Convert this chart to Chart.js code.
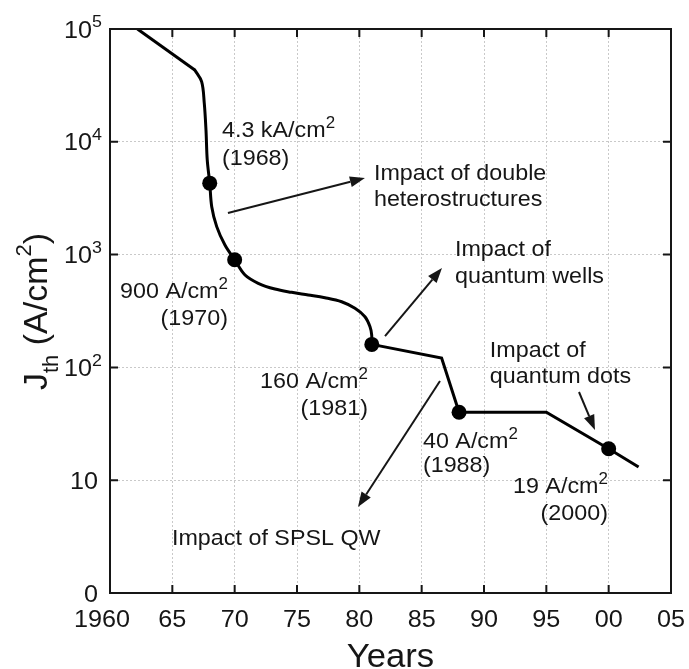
<!DOCTYPE html>
<html lang="en">
<head>
<meta charset="UTF-8">
<title>Threshold current density vs year</title>
<script src="https://cdn.jsdelivr.net/npm/chart.js"></script>
<style>
    body { margin: 0; background: #fff; }
    #wrap { width: 689px; height: 669px; position: relative; }
</style>
</head>
<body>
<div id="wrap"><canvas id="jthChart"></canvas></div>
<script>
// values: year vs Jth (A/cm2)
const headYears = [1962.2, 1966.8];
const headJ = [100000, 43300];
const bendYears = [1966.8, 1967.35, 1967.56, 1967.7, 1967.8, 1968, 1968.16, 1968.56, 1969.22, 1970,
    1970.83, 1971.89, 1973.23, 1974.57, 1975.9, 1977.24, 1978.58, 1979.65, 1980.45, 1980.85, 1980.99, 1981];
const bendJ = [43300, 34100, 22100, 12700, 6900, 4300, 2660, 1770, 1215, 900,
    659, 557, 495, 463, 439, 415, 382, 334, 281, 230, 194, 160];
const tailYears = [1981, 1986.6, 1988, 1995, 2000, 2002.4];
const tailJ = [160, 121, 40, 40, 19, 13.1];
const recordYears = [1968, 1970, 1981, 1988, 2000];
const recordJ = [4300, 900, 160, 40, 19];

const xTicks = [1960, 1965, 1970, 1975, 1980, 1985, 1990, 1995, 2000, 2005];
const xTickLabels = ['1960', '65', '70', '75', '80', '85', '90', '95', '00', '05'];
const yTicks = [1, 10, 100, 1000, 10000, 100000];
const yTickLabels = ['0', '10', '10^2', '10^3', '10^4', '10^5'];

// annotations, anchored at [year, log10(J)] ; '^' marks a superscript
const notes = [
    { text: '4.3 kA/cm^2', at: [1968.98, 4.043], align: 'left' },
    { text: '(1968)', at: [1968.98, 3.794], align: 'left' },
    { text: '900 A/cm^2', at: [1969.46, 2.615], align: 'right' },
    { text: '(1970)', at: [1969.46, 2.376], align: 'right' },
    { text: '160 A/cm^2', at: [1980.69, 1.817], align: 'right' },
    { text: '(1981)', at: [1980.69, 1.578], align: 'right' },
    { text: '40 A/cm^2', at: [1985.1, 1.285], align: 'left' },
    { text: '(1988)', at: [1985.1, 1.073], align: 'left' },
    { text: '19 A/cm^2', at: [1999.94, 0.887], align: 'right' },
    { text: '(2000)', at: [1999.94, 0.647], align: 'right' },
    { text: 'Impact of double', at: [1981.17, 3.661], align: 'left' },
    { text: 'heterostructures', at: [1981.17, 3.431], align: 'left' },
    { text: 'Impact of', at: [1987.67, 2.988], align: 'left' },
    { text: 'quantum wells', at: [1987.67, 2.748], align: 'left' },
    { text: 'Impact of', at: [1990.47, 2.092], align: 'left' },
    { text: 'quantum dots', at: [1990.47, 1.862], align: 'left' },
    { text: 'Impact of SPSL QW', at: [1964.97, 0.426], align: 'left' }
];
const arrows = [
    { from: [1969.46, 3.369], to: [1980.45, 3.679] },
    { from: [1982.06, 2.278], to: [1986.63, 2.881] },
    { from: [1986.47, 1.879], to: [1979.89, 0.762] },
    { from: [1997.62, 1.782], to: [1998.9, 1.445] }
];

const FONT = "'Liberation Sans', Arial, sans-serif";
const INK = '#161616';

function pts(xs, ys) {
    return xs.map((v, i) => ({ x: v, y: ys[i] }));
}

// draws "base^sup" text with a slight horizontal stretch like the scanned figure
function drawRich(ctx, str, x, y, size, align, sx) {
    const parts = str.split('^');
    const segs = [{ t: parts[0], s: size, dy: 0 }];
    if (parts[1]) segs.push({ t: parts[1], s: Math.round(size * 0.72), dy: -size * 0.42 });
    let w = 0;
    segs.forEach(g => {
        ctx.font = g.s + 'px ' + FONT;
        g.w = ctx.measureText(g.t).width;
        w += g.w;
    });
    ctx.save();
    ctx.translate(x, y);
    ctx.scale(sx, 1);
    let cx = align === 'right' ? -w : (align === 'center' ? -w / 2 : 0);
    ctx.textAlign = 'left';
    ctx.textBaseline = 'alphabetic';
    ctx.fillStyle = INK;
    segs.forEach(g => {
        ctx.font = g.s + 'px ' + FONT;
        ctx.fillText(g.t, cx, g.dy);
        cx += g.w;
    });
    ctx.restore();
}

function drawArrow(ctx, a, b) {
    const ang = Math.atan2(b.y - a.y, b.x - a.x);
    const len = 15, half = 5.5;
    const bx = b.x - Math.cos(ang) * len, by = b.y - Math.sin(ang) * len;
    ctx.save();
    ctx.strokeStyle = INK;
    ctx.fillStyle = INK;
    ctx.lineWidth = 2;
    ctx.beginPath();
    ctx.moveTo(a.x, a.y);
    ctx.lineTo(bx, by);
    ctx.stroke();
    ctx.beginPath();
    ctx.moveTo(b.x, b.y);
    ctx.lineTo(bx + Math.sin(ang) * half, by - Math.cos(ang) * half);
    ctx.lineTo(bx - Math.sin(ang) * half, by + Math.cos(ang) * half);
    ctx.closePath();
    ctx.fill();
    ctx.restore();
}

const figureLayer = {
    id: 'figureLayer',
    afterDraw(chart) {
        const { ctx, chartArea: a, scales: { x, y } } = chart;
        const at = (yr, e) => ({ x: x.getPixelForValue(yr), y: y.getPixelForValue(Math.pow(10, e)) });

        // frame
        ctx.save();
        ctx.strokeStyle = INK;
        ctx.lineWidth = 2;
        ctx.strokeRect(a.left, a.top, a.right - a.left, a.bottom - a.top);

        // inward tick marks on all four sides
        ctx.beginPath();
        xTicks.forEach(v => {
            const px = x.getPixelForValue(v);
            ctx.moveTo(px, a.bottom); ctx.lineTo(px, a.bottom - 8);
            ctx.moveTo(px, a.top); ctx.lineTo(px, a.top + 8);
        });
        yTicks.forEach(v => {
            const py = y.getPixelForValue(v);
            ctx.moveTo(a.left, py); ctx.lineTo(a.left + 8, py);
            ctx.moveTo(a.right, py); ctx.lineTo(a.right - 8, py);
        });
        ctx.stroke();
        ctx.restore();

        // tick labels
        xTicks.forEach((v, i) => {
            const px = x.getPixelForValue(v) + (i === 0 ? -8 : 0);
            drawRich(ctx, xTickLabels[i], px, a.bottom + 34, 24, 'center', 1.05);
        });
        yTicks.forEach((v, i) => {
            const py = y.getPixelForValue(v);
            const lab = yTickLabels[i];
            drawRich(ctx, lab, a.left - (lab.includes('^') ? 8 : 12), py + 8.5, 24, 'right', 1.05);
        });

        // axis titles
        drawRich(ctx, 'Years', (a.left + a.right) / 2, a.bottom + 74, 34, 'center', 1.02);

        ctx.save();
        ctx.translate(47, 390);
        ctx.rotate(-Math.PI / 2);
        ctx.fillStyle = INK;
        ctx.textBaseline = 'alphabetic';
        let cx = 0;
        const titleSegs = [
            { t: 'J', s: 34, dy: 0 },
            { t: 'th', s: 22, dy: 11 },
            { t: ' (A/cm', s: 34, dy: 0 },
            { t: '2', s: 22, dy: -16 },
            { t: ')', s: 34, dy: 0 }
        ];
        titleSegs.forEach(g => {
            ctx.font = g.s + 'px ' + FONT;
            ctx.fillText(g.t, cx, g.dy);
            cx += ctx.measureText(g.t).width;
        });
        ctx.restore();

        // annotations and arrows
        notes.forEach(n => {
            const p = at(n.at[0], n.at[1]);
            drawRich(ctx, n.text, p.x, p.y, 22, n.align, 1.06);
        });
        arrows.forEach(ar => drawArrow(ctx, at(ar.from[0], ar.from[1]), at(ar.to[0], ar.to[1])));
    }
};

const ctx = document.getElementById('jthChart').getContext('2d');
new Chart(ctx, {
    type: 'line',
    data: {
        datasets: [
            {
                label: 'Milestones',
                data: pts(recordYears, recordJ),
                showLine: false,
                pointRadius: 7.5,
                pointBackgroundColor: '#000',
                pointBorderWidth: 0
            },
            {
                label: 'Early',
                data: pts(headYears, headJ),
                borderColor: '#000',
                borderWidth: 3,
                pointRadius: 0,
                tension: 0
            },
            {
                label: 'Bend',
                data: pts(bendYears, bendJ),
                borderColor: '#000',
                borderWidth: 3,
                pointRadius: 0,
                tension: 0.35,
                borderCapStyle: 'round',
                borderJoinStyle: 'round'
            },
            {
                label: 'Late',
                data: pts(tailYears, tailJ),
                borderColor: '#000',
                borderWidth: 3,
                pointRadius: 0,
                tension: 0,
                borderJoinStyle: 'miter'
            }
        ]
    },
    options: {
        responsive: true,
        maintainAspectRatio: false,
        animation: false,
        layout: { padding: { left: 110, top: 29, right: 18, bottom: 76 } },
        plugins: { legend: { display: false }, tooltip: { enabled: false } },
        scales: {
            x: {
                type: 'linear',
                min: 1960,
                max: 2005,
                afterBuildTicks: s => { s.ticks = xTicks.map(v => ({ value: v })); },
                ticks: { display: false },
                grid: { color: '#c9c9c9', lineWidth: 1, drawTicks: false },
                border: { display: false, dash: [2, 2] }
            },
            y: {
                type: 'logarithmic',
                min: 1,
                max: 100000,
                afterBuildTicks: s => { s.ticks = yTicks.map(v => ({ value: v })); },
                ticks: { display: false },
                grid: { color: '#c9c9c9', lineWidth: 1, drawTicks: false },
                border: { display: false, dash: [2, 2] }
            }
        }
    },
    plugins: [figureLayer]
});
</script>
</body>
</html>
